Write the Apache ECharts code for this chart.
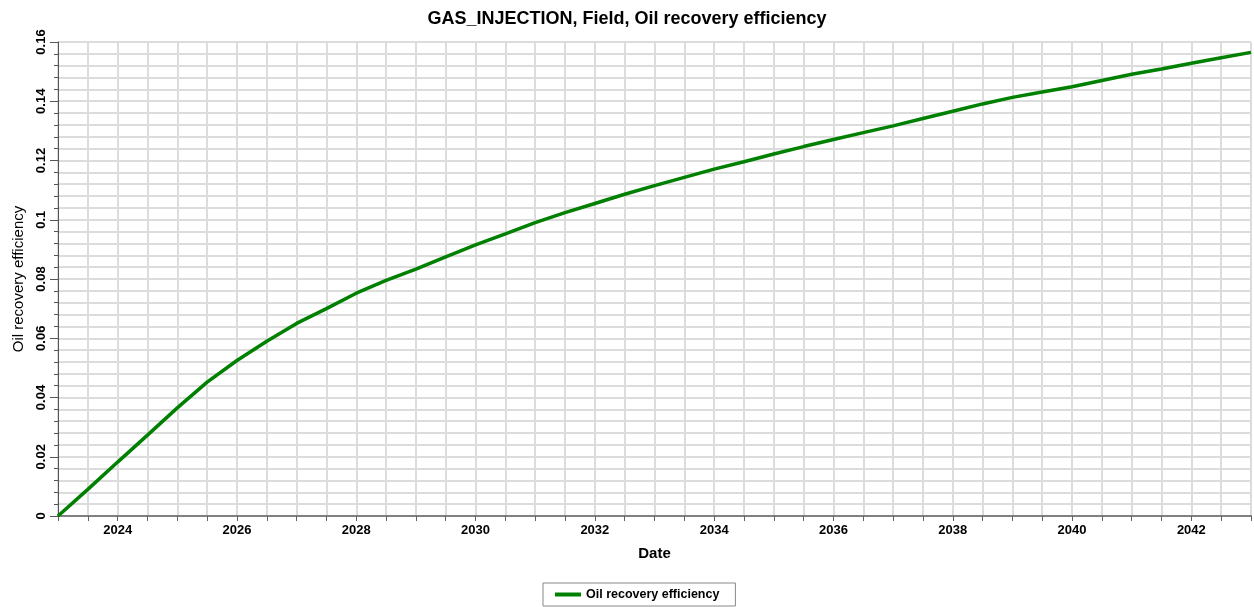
<!DOCTYPE html>
<html>
<head>
<meta charset="utf-8">
<script src="https://cdn.jsdelivr.net/npm/echarts@6/dist/echarts.min.js"></script>
<style>
  html, body { margin: 0; padding: 0; background: #fff; }
  #chart { width: 1254px; height: 607px; }
</style>
</head>
<body>
<div id="chart"></div>
<script>
var years = [2023, 2023.5, 2024, 2024.5, 2025, 2025.5, 2026, 2026.5, 2027, 2027.5,
    2028, 2028.5, 2029, 2029.5, 2030, 2030.5, 2031, 2031.5, 2032, 2032.5,
    2033, 2033.5, 2034, 2034.5, 2035, 2035.5, 2036, 2036.5, 2037, 2037.5,
    2038, 2038.5, 2039, 2039.5, 2040, 2040.5, 2041, 2041.5, 2042, 2042.5, 2043];
var recovery = [0, 0.0090, 0.0182, 0.0273, 0.0365, 0.0452, 0.0525, 0.059, 0.065, 0.0700,
    0.0752, 0.0795, 0.0833, 0.0875, 0.0915, 0.0952, 0.099, 0.1024, 0.1055, 0.1086,
    0.1115, 0.1143, 0.1171, 0.1196, 0.1222, 0.1247, 0.1271, 0.1294, 0.1317, 0.1342,
    0.1366, 0.1391, 0.1413, 0.1431, 0.1449, 0.147, 0.1491, 0.1509, 0.1528, 0.1547, 0.1565];
var yTicks = [0, 0.02, 0.04, 0.06, 0.08, 0.1, 0.12, 0.14, 0.16];

var seriesData = years.map(function (y, i) { return [y, recovery[i]]; });
var font = "'Liberation Sans', Arial, sans-serif";
var gridColor = "#dcdcdc";

var chart = echarts.init(document.getElementById("chart"), null, {renderer: "canvas"});
chart.setOption({
    animation: false,
    backgroundColor: "#fff",
    title: {
        text: "GAS_INJECTION, Field, Oil recovery efficiency",
        left: "center",
        top: 5,
        textStyle: {fontFamily: font, fontSize: 18, fontWeight: "bold", color: "#000"}
    },
    legend: {
        bottom: 1,
        left: 543,
        data: ["Oil recovery efficiency"],
        icon: "rect",
        itemWidth: 26,
        itemHeight: 4,
        itemGap: 6,
        borderColor: "#888",
        borderWidth: 1,
        borderRadius: 0,
        padding: [5, 16, 5, 12],
        textStyle: {fontFamily: font, fontSize: 12.5, fontWeight: "bold", color: "#000"}
    },
    grid: {left: 58, right: 1, top: 42, bottom: 91, containLabel: false},
    xAxis: {
        type: "value",
        min: 2023,
        max: 2043,
        interval: 1,
        name: "Date",
        nameLocation: "middle",
        nameGap: 30,
        nameTextStyle: {fontFamily: font, fontSize: 15, fontWeight: "bold", color: "#000"},
        axisLine: {lineStyle: {color: "#808080", width: 2}},
        axisTick: {show: true, length: 5, lineStyle: {color: "#606060"}},
        minorTick: {show: true, splitNumber: 2, length: 5, lineStyle: {color: "#606060"}},
        axisLabel: {
            fontFamily: font, fontSize: 13, fontWeight: "bold", color: "#000", margin: 8,
            formatter: function (v) { return v % 2 === 0 ? String(v) : ""; }
        },
        splitLine: {show: true, lineStyle: {color: gridColor, width: 2}},
        minorSplitLine: {show: true, lineStyle: {color: gridColor, width: 2}}
    },
    yAxis: {
        type: "value",
        min: 0,
        max: 0.16,
        interval: 0.02,
        name: "Oil recovery efficiency",
        nameLocation: "middle",
        nameRotate: 90,
        nameGap: 32,
        nameTextStyle: {fontFamily: font, fontSize: 15, color: "#000"},
        axisLine: {show: true, lineStyle: {color: "#555", width: 1}},
        axisTick: {show: true, length: 8, lineStyle: {color: "#555"}},
        minorTick: {show: true, splitNumber: 5, length: 4, lineStyle: {color: "#555"}},
        axisLabel: {
            rotate: 90, fontFamily: font, fontSize: 13, fontWeight: "bold", color: "#000", margin: 10,
            formatter: function (v) {
                var t = yTicks.find(function (k) { return Math.abs(k - v) < 1e-9; });
                return t === undefined ? "" : String(t);
            }
        },
        splitLine: {show: true, lineStyle: {color: gridColor, width: 2}},
        minorSplitLine: {show: true, lineStyle: {color: gridColor, width: 2}}
    },
    series: [{
        name: "Oil recovery efficiency",
        type: "line",
        data: seriesData,
        showSymbol: false,
        smooth: false,
        lineStyle: {color: "#008000", width: 3.5},
        itemStyle: {color: "#008000"}
    }]
});
</script>
</body>
</html>
